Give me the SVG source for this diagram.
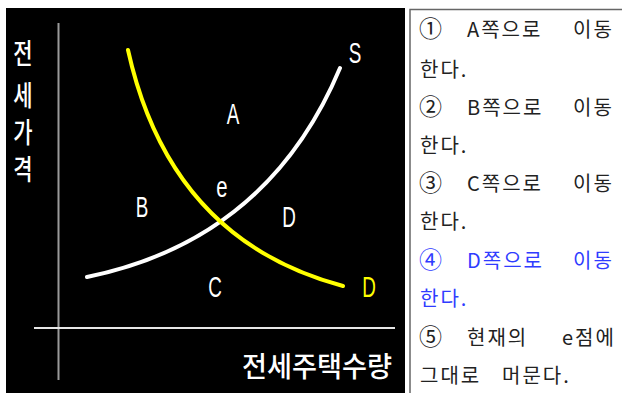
<svg xmlns="http://www.w3.org/2000/svg" width="622" height="393" viewBox="0 0 622 393">
<style>
.lbl{font-family:"Liberation Sans",Arial,sans-serif;font-size:29px;fill:#fff;text-anchor:middle}
.ax{font-family:"Noto Sans CJK KR",sans-serif;font-size:28px;font-weight:500;fill:#fff;text-anchor:middle}
.t{font-family:"Noto Sans CJK KR",sans-serif;font-size:20px;fill:#222;letter-spacing:2px}
.n{font-size:23px}
.blue{fill:#2f3cff}
</style>
<rect width="622" height="393" fill="#fff"/>
<g id="chart">
<rect x="6" y="8" width="399" height="385" fill="#000"/>
<line x1="58.5" y1="23" x2="58.5" y2="380" stroke="#9a9a9a" stroke-width="2"/>
<line x1="34" y1="328" x2="395" y2="328" stroke="#e6e6e6" stroke-width="2"/>
</g>
<g id="connectors" fill="none" stroke-linecap="round">
<path id="supply" d="M87,277 Q268,240 340,68" stroke="#fff" stroke-width="4"/>
<path id="demand" d="M128,50 Q170,240 343,286" stroke="#ffff00" stroke-width="4"/>
</g>
<g id="yaxis-label">
<text class="ax" transform="translate(23,64) scale(0.75,1)">전</text>
<text class="ax" transform="translate(23,106) scale(0.75,1)">세</text>
<text class="ax" transform="translate(23,143) scale(0.75,1)">가</text>
<text class="ax" transform="translate(23,180) scale(0.75,1)">격</text>
</g>
<g id="xaxis-label">
<text class="ax" x="317" y="377" textLength="150" lengthAdjust="spacingAndGlyphs">전세주택수량</text>
</g>
<g id="labels">
<text class="lbl" transform="translate(233,124) scale(0.65,1)">A</text>
<text class="lbl" transform="translate(355,63) scale(0.65,1)">S</text>
<text class="lbl" transform="translate(222,197) scale(0.7,1)">e</text>
<text class="lbl" transform="translate(142,217) scale(0.65,1)">B</text>
<text class="lbl" transform="translate(289,227) scale(0.65,1)">D</text>
<text class="lbl" transform="translate(215,297) scale(0.65,1)">C</text>
<text class="lbl" transform="translate(369,297) scale(0.65,1)" style="fill:#ffff00">D</text>
</g>
<g id="options">
<path d="M410,393 V9.5 H622" fill="none" stroke="#666" stroke-width="1.5"/>
<text class="t" y="37"><tspan x="419" class="n">①</tspan><tspan x="467">A쪽으로</tspan><tspan x="573">이동</tspan></text>
<text class="t" y="77"><tspan x="420">한다.</tspan></text>
<text class="t" y="115"><tspan x="419" class="n">②</tspan><tspan x="467">B쪽으로</tspan><tspan x="573">이동</tspan></text>
<text class="t" y="153"><tspan x="420">한다.</tspan></text>
<text class="t" y="191"><tspan x="419" class="n">③</tspan><tspan x="467">C쪽으로</tspan><tspan x="573">이동</tspan></text>
<text class="t" y="229"><tspan x="420">한다.</tspan></text>
<text class="t blue" y="268"><tspan x="419" class="n">④</tspan><tspan x="467">D쪽으로</tspan><tspan x="573">이동</tspan></text>
<text class="t blue" y="306"><tspan x="420">한다.</tspan></text>
<text class="t" y="345"><tspan x="419" class="n">⑤</tspan><tspan x="467">현재의</tspan><tspan x="562">e점에</tspan></text>
<text class="t" y="383"><tspan x="420">그대로</tspan><tspan x="502">머문다.</tspan></text>
</g>
</svg>
